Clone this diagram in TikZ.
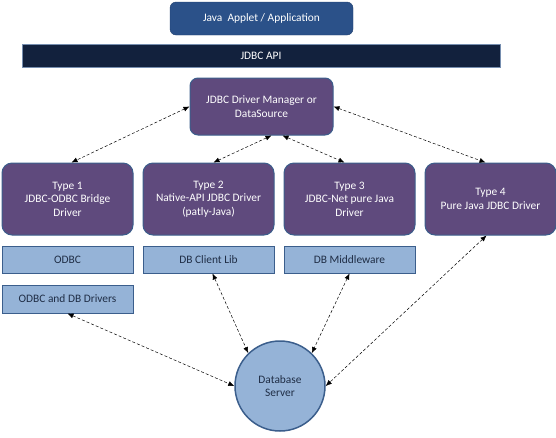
\documentclass[tikz,border=0pt]{standalone}
\usepackage{fontspec}
\setmainfont{Carlito}
\usetikzlibrary{positioning, arrows.meta}
\definecolor{appblue}{HTML}{2B5189}
\definecolor{apinavy}{HTML}{12213D}
\definecolor{drvpurple}{HTML}{5F4A7D}
\definecolor{libblue}{HTML}{95B3D7}
\definecolor{edgeblue}{HTML}{3B5E8C}
\definecolor{textnavy}{HTML}{1F2D45}
\begin{document}
\begin{tikzpicture}[x=1pt, y=-1pt, font=\fontsize{11.4}{13.5}\selectfont,
	driver/.style={fill=drvpurple, draw=edgeblue, line width=1pt, rounded corners=10pt, text=white, align=center, minimum width=131pt, minimum height=72pt, inner sep=2pt},
	lib/.style={fill=libblue, draw=edgeblue, line width=1pt, text=textnavy, minimum width=131pt, minimum height=27pt, inner sep=2pt},
	link/.style={densely dashed, line width=0.5pt, {Latex[length=6pt,width=5pt]}-{Latex[length=6pt,width=5pt]}}]
	\useasboundingbox (0,0) rectangle (556,437);
	
	\node[fill=appblue, draw=appblue!80!black, rounded corners=6pt, text=white, minimum width=183pt, minimum height=33pt] (app) at (261.5,18.5) {Java\ \ Applet / Application};
	\node[fill=apinavy, draw=edgeblue!70, line width=1pt, text=white, minimum width=478pt, minimum height=23pt] (api) at (261,55.5) {JDBC API};
	\node[driver, rounded corners=8pt, minimum width=143pt, minimum height=57pt] (mgr) at (261.5,106.5) {JDBC Driver Manager or\\DataSource};
	
	\node[driver] (t1) at (67.5,199) {Type 1\\JDBC-ODBC Bridge\\Driver};
	\node[driver, right=9pt of t1] (t2) {Type 2\\Native-API JDBC Driver\\(patly-Java)};
	\node[driver, right=9pt of t2] (t3) {Type 3\\JDBC-Net pure Java\\Driver};
	\node[driver, right=9pt of t3] (t4) {Type 4\\Pure Java JDBC Driver};
	
	\node[lib, below=10pt of t1] (odbc) {ODBC};
	\node[lib, below=10pt of t2] (client) {DB Client Lib};
	\node[lib, below=10pt of t3] (middle) {DB Middleware};
	\node[lib, below=11pt of odbc, minimum height=28pt] (native) {ODBC and DB Drivers};
	
	\node[circle, fill=libblue, draw=edgeblue, line width=1.5pt, text=textnavy, align=center, minimum size=90pt] (db) at (280,386) {Database\\Server};
	
	% manager to the drivers
	\draw[link] (mgr.west) -- ([xshift=4pt]t1.north);
	\draw[link] ([xshift=10pt]mgr.south) -- ([xshift=5pt]t2.north);
	\draw[link] ([xshift=21pt]mgr.south) -- ([xshift=-5pt]t3.north);
	\draw[link] (mgr.east) -- ([xshift=-5pt]t4.north);
	
	% drivers to the server
	\draw[link] (native.south) -- (db.west);
	\draw[link] ([xshift=4pt]client.south) -- (db.134);
	\draw[link] (middle.south) -- (db.46);
	\draw[link] ([xshift=-4pt]t4.south) -- (db.east);
\end{tikzpicture}
\end{document}
